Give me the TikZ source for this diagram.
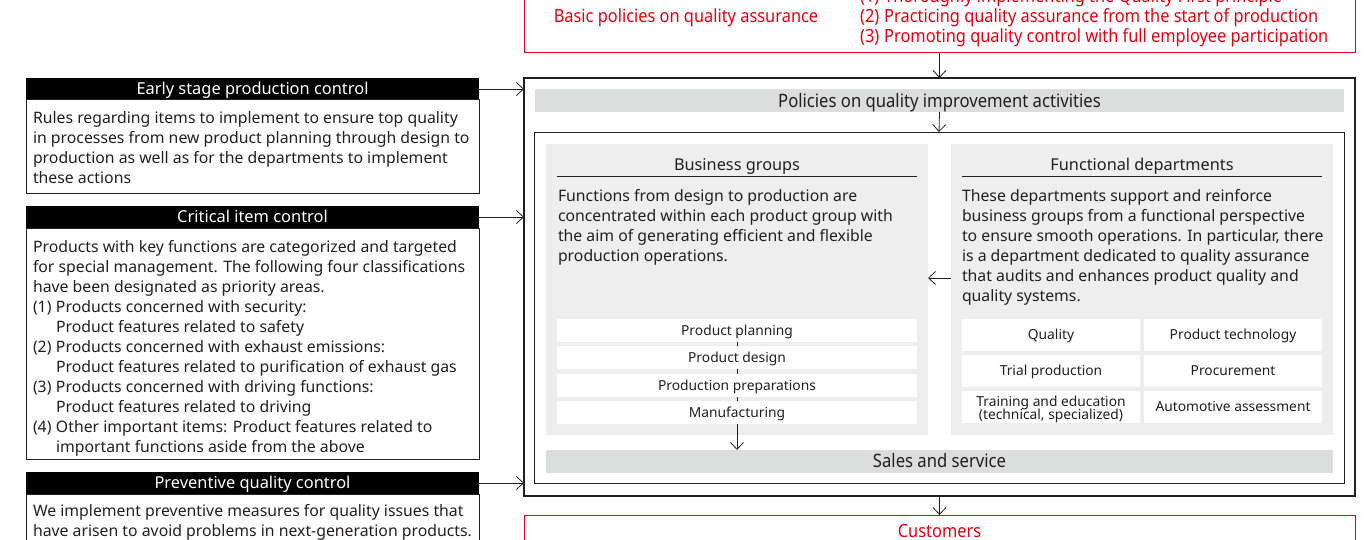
\documentclass[tikz,border=0pt]{standalone}
\usepackage{fontspec}
\setmainfont{Noto Sans}
\newfontfamily\condfont[FakeStretch=0.9]{Noto Sans}
\usetikzlibrary{arrows.meta}

\definecolor{nred}{HTML}{E60012}
\definecolor{bargray}{HTML}{DCDDDD}
\definecolor{panelgray}{HTML}{EEEEEE}
\definecolor{ink}{HTML}{231F20}

\tikzset{
  arr/.style={draw=ink, line width=0.8pt, -{Straight Barb[length=7pt,width=13pt]}},
  blk/.style={anchor=north west, inner sep=0pt, outer sep=0pt},
  oneline/.style={text height=0.98em, text depth=0.02em},
  headbar/.style={blk, oneline, fill=black, text=white, font=\fontsize{16.4}{18}\selectfont},
  bodybox/.style={blk, draw=ink, line width=1pt},
  bodytxt/.style={blk, align=left, text=ink, font=\fontsize{15.8}{20}\selectfont},
  graybar/.style={blk, oneline, fill=bargray, text=ink, font=\condfont\fontsize{18.5}{20}\selectfont},
  panel/.style={blk, fill=panelgray},
  panelhead/.style={oneline, inner sep=0pt, text=ink, font=\fontsize{16.3}{20}\selectfont},
  cell/.style={blk, oneline, fill=white, text=ink, align=center, font=\fontsize{13.8}{12}\selectfont},
  redtxt/.style={oneline, text=nred, font=\condfont\fontsize{18.2}{20}\selectfont, inner sep=0pt}
}

\begin{document}
\begin{tikzpicture}[x=1pt, y=-1pt]
\useasboundingbox (0,0) rectangle (1367,540);

% basic policies (red, top)
\node[blk, draw=nred, line width=1pt, minimum width=831, minimum height=93, anchor=south west] (basic) at (524,53) {};
\node[redtxt] (basictitle) at (686,18) {Basic policies on quality assurance};
\node[redtxt, anchor=west] (bp1) at (860,-2) {\makebox[24pt][l]{(1)}Thoroughly implementing the Quality First principle};
\node[redtxt, anchor=west] (bp2) at (860,18) {\makebox[24pt][l]{(2)}Practicing quality assurance from the start of production};
\node[redtxt, anchor=west] (bp3) at (860,38) {\makebox[24pt][l]{(3)}Promoting quality control with full employee participation};

% outer frame
\node[blk, draw=ink, line width=1.4pt, minimum width=831, minimum height=418] (outer) at (524,78) {};
\node[graybar, minimum width=809, minimum height=23] (policies) at (535,89) {\raisebox{-2pt}{Policies on quality improvement activities}};
\node[blk, draw=ink, line width=0.8pt, minimum width=810, minimum height=351] (inner) at (534,132) {};

% business groups
\node[panel, minimum width=382, minimum height=291] (biz) at (546,144) {};
\node[panelhead] (bizhead) at (737,166) {Business groups};
\draw[ink, line width=0.8pt] (557,176) -- (917,176);
\node[bodytxt] (biztxt) at (558,189) {Functions from design to production are\\
concentrated within each product group with\\
the aim of generating efficient and flexible\\
production operations.};
\node[cell, minimum width=360, minimum height=23] (plan) at (557,319) {Product planning};
\node[cell, minimum width=360, minimum height=23] (design) at (557,346) {Product design};
\node[cell, minimum width=360, minimum height=23] (prep) at (557,374) {Production preparations};
\node[cell, minimum width=360, minimum height=23] (manuf) at (557,401) {Manufacturing};

% functional departments
\node[panel, minimum width=382, minimum height=291] (func) at (951,144) {};
\node[panelhead] (funchead) at (1142,166) {Functional departments};
\draw[ink, line width=0.8pt] (962,176) -- (1322,176);
\node[bodytxt] (functxt) at (962,189) {These departments support and reinforce\\
business groups from a functional perspective\\
to ensure smooth operations. In particular, there\\
is a department dedicated to quality assurance\\
that audits and enhances product quality and\\
quality systems.};
\node[cell, minimum width=178, minimum height=32] (quality) at (962,319) {Quality};
\node[cell, minimum width=178, minimum height=32] (prodtech) at (1144,319) {Product technology};
\node[cell, minimum width=178, minimum height=32] (trial) at (962,355) {Trial production};
\node[cell, minimum width=178, minimum height=32] (procure) at (1144,355) {Procurement};
\node[cell, minimum width=178, minimum height=32] (training) at (962,391) {};
\node[text=ink, align=center, inner sep=0pt, font=\fontsize{13.8}{12}\selectfont, yshift=-2.5pt] (trainingtxt) at (training.center) {Training and education\\[-1pt](technical, specialized)};
\node[cell, minimum width=178, minimum height=32] (autoassess) at (1144,391) {Automotive assessment};

\node[graybar, minimum width=787, minimum height=23] (sales) at (546,450) {\raisebox{-1.5pt}{Sales and service}};

% customers (red, bottom)
\node[blk, draw=nred, line width=1pt, minimum width=831, minimum height=60] (cust) at (524,515) {};
\node[redtxt] (custtxt) at (939.5,532.5) {Customers};

% left-hand control boxes
\node[headbar, minimum width=453, minimum height=22] (early) at (26,78) {\raisebox{-1pt}{Early stage production control}};
\node[bodybox, minimum width=453, minimum height=94] (earlybody) at (26,100) {};
\node[bodytxt] (earlytxt) at (33,111) {Rules regarding items to implement to ensure top quality\\
in processes from new product planning through design to\\
production as well as for the departments to implement\\
these actions};

\node[headbar, minimum width=453, minimum height=22] (critical) at (26,206) {\raisebox{-1pt}{Critical item control}};
\node[bodybox, minimum width=453, minimum height=231] (criticalbody) at (26,228) {};
\node[bodytxt] (criticaltxt) at (33,240) {Products with key functions are categorized and targeted\\
for special management. The following four classifications\\
have been designated as priority areas.\\
\makebox[23pt][l]{(1)}Products concerned with security:\\
\hspace*{23pt}Product features related to safety\\
\makebox[23pt][l]{(2)}Products concerned with exhaust emissions:\\
\hspace*{23pt}Product features related to purification of exhaust gas\\
\makebox[23pt][l]{(3)}Products concerned with driving functions:\\
\hspace*{23pt}Product features related to driving\\
\makebox[23pt][l]{(4)}Other important items: Product features related to\\
\hspace*{23pt}important functions aside from the above};

\node[headbar, minimum width=453, minimum height=22] (prevent) at (26,472) {\raisebox{-1pt}{Preventive quality control}};
\node[bodybox, minimum width=453, minimum height=80] (preventbody) at (26,494) {};
\node[bodytxt] (preventtxt) at (33,504) {We implement preventive measures for quality issues that\\
have arisen to avoid problems in next-generation products.};

% connectors
\draw[arr] (basic.south) -- (outer.north);
\draw[arr] (policies.south) -- (inner.north);
\draw[arr] (early.east) -- (early.east -| outer.west);
\draw[arr] (critical.east) -- (critical.east -| outer.west);
\draw[arr] (prevent.east) -- (prevent.east -| outer.west);
\draw[arr] ([yshift=11.5pt]func.west) -- ([yshift=11.5pt]biz.east);
\draw[ink, line width=0.8pt] (plan.south) -- (design.north);
\draw[ink, line width=0.8pt] (design.south) -- (prep.north);
\draw[ink, line width=0.8pt] (prep.south) -- (manuf.north);
\draw[arr] (manuf.south) -- (manuf.south |- sales.north);
\draw[arr] (outer.south) -- (cust.north);
\end{tikzpicture}
\end{document}
